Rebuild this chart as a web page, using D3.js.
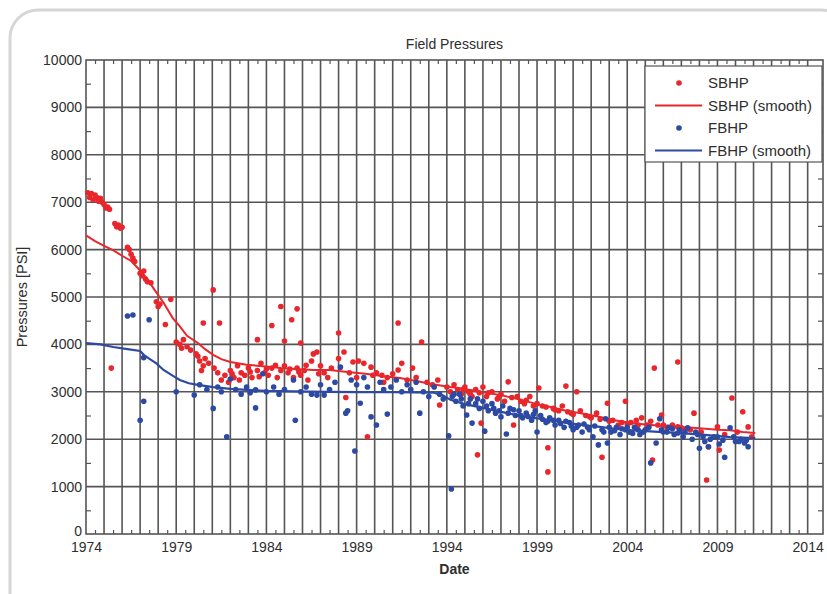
<!DOCTYPE html>
<html><head><meta charset="utf-8">
<script src="https://cdn.jsdelivr.net/npm/d3@7"></script>
<style>
body{margin:0;background:#fff;}
svg{display:block;font-family:"Liberation Sans",Arial,sans-serif;}
</style></head>
<body>
<svg id="chart" width="827" height="594"></svg>
<script>
const chartTitle = "Field Pressures";
const xLabel = "Date";
const yLabel = "Pressures [PSI]";
const xTickYears = [1974,1979,1984,1989,1994,1999,2004,2009,2014];
const yTickValues = [0,1000,2000,3000,4000,5000,6000,7000,8000,9000,10000];
const seriesNames = ["SBHP","SBHP (smooth)","FBHP","FBHP (smooth)"];

const sbhpPoints = [
[1974.1,7200],[1974.2,7100],[1974.3,7180],[1974.4,7050],[1974.5,7150],[1974.6,7100],[1974.7,7020],[1974.8,7080],[1974.9,7000],[1975.0,6950],[1975.1,6880],[1975.2,6900],[1975.3,6850],
[1975.6,6550],[1975.7,6480],[1975.8,6520],[1975.9,6450],[1976.0,6470],[1975.4,3500],
[1976.3,6050],[1976.4,6000],[1976.5,5900],[1976.6,5820],[1976.7,5750],
[1977.0,5500],[1977.1,5450],[1977.2,5550],[1977.3,5380],[1977.4,5320],[1977.6,5300],
[1977.9,4900],[1978.0,4800],[1978.1,4850],[1978.4,4420],[1978.7,4950],
[1979.0,4050],[1979.2,4000],[1979.4,4100],[1979.6,3950],[1979.8,3880],[1979.3,3920],
[1980.1,3800],[1980.2,3750],[1980.3,3650],[1980.5,3550],[1980.6,3700],[1980.8,3600],[1980.4,3450],
[1980.5,4450],[1981.4,4450],[1981.05,5150],
[1981.1,3500],[1981.3,3400],[1981.5,3250],[1981.7,3350],[1981.9,3200],[1982.0,3450],[1982.2,3300],[1982.4,3550],[1982.6,3400],[1982.8,3350],[1983.0,3500],[1983.2,3300],[1983.5,3450],[1983.7,3600],[1983.9,3400],[1984.1,3350],[1984.3,3500],[1984.6,3300],[1984.8,3450],[1985.0,3550],[1985.2,3400],[1985.5,3300],[1985.7,3500],[1985.9,3350],[1986.1,3450],[1986.3,3250],[1986.5,3650],[1986.8,3840],[1987.0,3550],[1987.2,3400],[1987.4,3300],[1987.6,3500],
[1982.1,3380],[1982.5,3250],[1983.1,3420],[1983.6,3320],[1984.0,3480],[1984.5,3560],[1985.3,3480],[1985.8,3420],[1986.2,3560],[1986.9,3380],
[1983.5,4100],[1984.3,4400],[1984.8,4800],[1985.0,4070],[1985.4,4520],[1985.7,4750],[1985.9,4030],[1986.6,3800],
[1988.0,4240],[1988.3,3840],[1988.0,3700],[1988.8,3630],[1989.1,3650],[1989.4,3600],[1988.4,2880],[1989.6,2050],[1989.8,3520],[1990.1,3400],[1990.4,3350],[1990.7,3300],[1991.0,3380],[1991.3,3460],[1991.5,3600],[1991.3,4450],[1992.1,3500],[1992.6,4050],[1991.8,3250],[1992.3,3300],[1992.9,3200],[1993.2,3150],[1993.6,2720],[1993.5,3250],[1988.6,3400],[1989.0,3300],[1989.9,3350],[1990.5,3200],
[1994.0,3100],[1994.2,3000],[1994.4,3150],[1994.6,3050],[1994.8,2950],[1995.0,3100],[1995.2,3000],[1995.4,2900],[1995.7,1670],[1995.9,2340],[1995.6,3050],[1995.8,2980],[1996.0,3100],[1996.2,2900],[1996.5,3000],[1996.8,2850],[1997.0,2950],[1997.4,3210],[1997.2,2800],[1997.7,2300],[1997.9,2900],[1998.1,2800],[1998.3,2750],[1998.6,2900],[1998.8,2700],[1999.1,3080],[1999.3,2700],[1999.6,1820],[1999.6,1310],[1999.9,2650],[2000.2,2600],[2000.6,3120],[2000.4,2700],[2000.9,2550],[2001.2,3000],[2001.4,2600],[2001.7,2500],[2002.0,2450],[2002.3,2550],[2002.6,1620],[2002.9,2760],[2003.2,2400],[2003.5,2300],[2003.9,2800],[2004.2,2350],[2004.5,2400],[2004.8,2450],[2005.1,2300],[2005.4,1560],[2005.5,3500],[2005.9,2510],[2005.7,2300],[2006.2,2250],[2006.5,2300],[2006.8,3630],[2006.8,2260],[2007.2,2200],[2007.7,2550],[2008.1,2150],[2008.4,1140],[2008.5,1840],[2009.0,2260],[2009.1,1770],[2009.4,2100],[2009.8,2870],[2010.1,2150],[2010.4,2580],[2010.7,2260],[2010.9,2050],
[1994.9,3050],[1995.3,2950],[1996.3,2980],[1996.9,2900],[1997.6,2880],[1998.4,2820],[1999.0,2750],[1999.5,2680],[2000.0,2620],[2000.7,2580],[2001.0,2520],[2001.9,2480],[2002.5,2420],[2003.0,2380],[2003.7,2350],[2004.0,2320],[2004.6,2300],[2005.3,2380],[2006.0,2300],[2007.0,2240],[2007.5,2200]
];
const sbhpSmooth = [
[1974.0,6300],[1974.5,6180],[1975.0,6080],[1975.5,5990],[1976.0,5870],[1976.5,5760],[1977.0,5560],[1977.4,5380],[1977.8,5150],[1978.3,4880],[1978.8,4560],[1979.2,4380],[1979.6,4180],[1980.2,4030],[1980.6,3900],[1981.05,3780],[1981.5,3690],[1982.0,3630],[1982.9,3570],[1983.8,3540],[1984.8,3500],[1985.6,3480],[1986.6,3460],[1987.5,3460],[1988.5,3420],[1989.5,3380],[1990.5,3330],[1991.4,3290],[1992.3,3230],[1993.2,3160],[1994.2,3100],[1995.0,3060],[1996.0,2990],[1997.0,2930],[1998.0,2840],[1999.0,2740],[1999.75,2680],[2000.6,2600],[2001.5,2540],[2002.5,2470],[2003.3,2400],[2004.2,2340],[2005.0,2310],[2006.0,2280],[2007.0,2260],[2008.0,2230],[2009.0,2200],[2009.7,2190],[2010.4,2150],[2011.1,2130]
];
const fbhpPoints = [
[1976.3,4600],[1976.6,4620],[1977.5,4520],[1977.0,2400],[1977.2,2800],[1977.2,3720],[1979.0,3000],[1980.0,2930],[1980.3,3150],[1980.7,3050],[1981.05,2650],[1981.3,3100],[1981.8,2050],[1981.5,3000],[1982.0,3270],[1982.3,3050],[1982.6,2950],[1982.9,3100],[1983.1,2980],[1983.4,3040],[1983.4,2660],[1983.8,3380],[1984.0,3000],[1984.4,3100],[1984.7,2950],[1985.0,3050],[1985.5,3250],[1985.6,2400],[1985.9,3000],[1986.2,3100],[1986.5,2950],[1986.8,2930],[1987.0,3150],[1987.2,2930],[1987.5,3050],[1987.8,3200],[1988.1,3520],[1988.4,2550],[1988.5,2600],[1988.7,3250],[1988.9,1750],[1989.0,3150],[1989.2,2760],[1989.4,3300],[1989.6,3100],[1989.8,2470],[1990.1,2300],[1990.3,3200],[1990.5,3050],[1990.7,2530],[1990.9,3100],[1991.2,3250],[1991.5,3000],[1991.8,3150],[1992.0,3050],[1992.3,3200],[1992.5,2550],[1992.7,3000],[1993.0,2900],[1993.3,3100],[1993.6,2950],[1993.8,2850],[1994.1,2070],[1994.25,950],[1994.3,2900],[1994.5,2800],[1994.7,2950],[1994.9,2700],[1995.1,2510],[1995.3,2850],[1995.4,2340],[1995.6,2750],[1995.8,2650],[1996.1,2170],[1996.0,2800],[1996.3,2600],[1996.5,2750],[1996.7,2550],[1997.0,2470],[1997.1,2700],[1997.3,2110],[1997.5,2650],[1997.8,2500],[1998.0,2600],[1998.2,2450],[1998.4,2550],[1998.7,2400],[1998.9,2600],[1999.0,2150],[1999.2,2500],[1999.5,2350],[1999.7,2450],[2000.0,2300],[2000.2,2400],[2000.5,2250],[2000.8,2350],[2001.0,2200],[2001.3,2300],[2001.5,2150],[2001.8,2250],[2002.1,2050],[2002.4,1880],[2002.6,2200],[2002.8,2430],[2002.9,1920],[2003.1,2150],[2003.4,2250],[2003.6,2100],[2003.9,2200],[2004.1,2150],[2004.4,2250],[2004.7,2100],[2005.0,2200],[2005.3,1500],[2005.6,1920],[2005.8,2430],[2006.0,2150],[2006.3,2250],[2006.6,2100],[2006.9,2200],[2007.1,2050],[2007.35,2240],[2007.6,2000],[2007.9,2100],[2008.0,1810],[2008.3,1950],[2008.5,1840],[2008.8,2050],[2009.1,1900],[2009.4,1620],[2009.7,2240],[2010.0,1950],[2010.3,2000],[2010.5,1920],[2010.7,1840],
[1994.4,2950],[1994.8,2850],[1995.2,2750],[1995.7,2850],[1996.2,2700],[1996.6,2650],[1996.9,2600],[1997.4,2550],[1997.7,2620],[1998.1,2500],[1998.5,2480],[1998.8,2520],[1999.3,2420],[1999.6,2380],[1999.9,2400],[2000.3,2330],[2000.6,2380],[2000.9,2280],[2001.2,2250],[2001.6,2320],[2001.9,2200],[2002.2,2280],[2002.7,2150],[2003.0,2250],[2003.3,2180],[2003.7,2220],[2004.0,2250],[2004.3,2120],[2004.6,2200],[2004.9,2150],[2005.2,2250],[2005.9,2200],[2006.2,2150],[2006.5,2220],[2006.8,2130],[2007.2,2150],[2007.8,2150],[2008.2,2050],[2008.6,2000],[2009.0,2050],[2009.3,1980],[2009.9,2050],[2010.2,1950],[2010.6,1980]
];
const fbhpSmooth = [
[1974.0,4030],[1974.8,4000],[1975.5,3945],[1976.3,3900],[1977.0,3860],[1977.2,3780],[1977.5,3700],[1977.9,3600],[1978.3,3460],[1978.8,3340],[1979.2,3250],[1979.7,3180],[1980.2,3145],[1981.05,3100],[1982.0,3060],[1982.9,3040],[1984.0,3020],[1985.5,3010],[1987.4,3000],[1989.0,2995],[1991.0,2990],[1993.3,2980],[1993.8,2920],[1994.2,2830],[1995.0,2740],[1996.0,2660],[1997.0,2575],[1998.0,2500],[1999.0,2440],[1999.75,2405],[2000.6,2350],[2001.5,2300],[2002.5,2260],[2003.3,2220],[2004.2,2190],[2005.5,2160],[2007.0,2130],[2008.3,2090],[2009.7,2045],[2011.1,2025]
];

const red = "#e8262b", blue = "#2c4aa3";
const txt = "#2e2e2e";
const svg = d3.select("#chart");
// outer frame
svg.append("rect").attr("x",10).attr("y",10).attr("width",840).attr("height",620)
  .attr("rx",28).attr("fill","none").attr("stroke","#d6d6d6").attr("stroke-width",3);

const L=86, R=823, T=60, B=534;
const x = d3.scaleLinear().domain([1974, 2014.85]).range([L,R]);
const y = d3.scaleLinear().domain([0,10000]).range([B,T]);

const grid = svg.append("g").attr("stroke","#555").attr("stroke-width",1.6);
grid.selectAll("line.v").data(d3.range(1975,2015)).join("line")
  .attr("x1",d=>x(d)).attr("x2",d=>x(d)).attr("y1",T).attr("y2",B);
grid.selectAll("line.h").data(yTickValues.slice(1,-1)).join("line")
  .attr("x1",L).attr("x2",R).attr("y1",d=>y(d)).attr("y2",d=>y(d));

// frame axes with inward ticks
const axisColor = "#555";
const minorY = d3.range(500,10000,1000);
const gL = svg.append("g").attr("transform",`translate(${L},0)`)
  .call(d3.axisRight(y).tickValues(minorY).tickSize(5).tickFormat(""));
const gR = svg.append("g").attr("transform",`translate(${R},0)`)
  .call(d3.axisLeft(y).tickValues(minorY).tickSize(5).tickFormat(""));
const gB = svg.append("g").attr("transform",`translate(0,${B})`)
  .call(d3.axisTop(x).tickValues(d3.range(1974.5,2014.5,1)).tickSize(4).tickFormat(""));
const gT = svg.append("g").attr("transform",`translate(0,${T})`)
  .call(d3.axisBottom(x).tickValues(d3.range(1974.5,2014.5,1)).tickSize(4).tickFormat(""));
[gL,gR,gB,gT].forEach(g=>{g.select(".domain").remove(); g.selectAll("line").attr("stroke",axisColor).attr("stroke-width",1.2);});
svg.append("rect").attr("x",L).attr("y",T).attr("width",R-L).attr("height",B-T)
  .attr("fill","none").attr("stroke",axisColor).attr("stroke-width",1.6);

// tick labels via axes (no lines)
const yLab = svg.append("g").attr("transform",`translate(${L},0)`)
  .call(d3.axisLeft(y).tickValues(yTickValues).tickSize(0).tickPadding(4).tickFormat(d3.format("d")));
yLab.select(".domain").remove();
yLab.selectAll("text").attr("font-size",14).attr("fill",txt).attr("font-family","Liberation Sans, Arial")
  .attr("dy", d => d===0 ? "0.1em" : "0.32em");
const xLab = svg.append("g").attr("transform",`translate(0,${B})`)
  .call(d3.axisBottom(x).tickValues(xTickYears).tickSize(0).tickPadding(8).tickFormat(d3.format("d")));
xLab.select(".domain").remove();
xLab.selectAll("text").attr("font-size",14).attr("fill",txt).attr("font-family","Liberation Sans, Arial");

// titles
svg.append("text").attr("x",(L+R)/2).attr("y",49).attr("text-anchor","middle")
  .attr("font-size",14).attr("fill",txt).text(chartTitle);
svg.append("text").attr("x",(L+R)/2).attr("y",574).attr("text-anchor","middle")
  .attr("font-size",14).attr("font-weight","bold").attr("fill",txt).text(xLabel);
svg.append("text").attr("transform",`translate(27,${(T+B)/2}) rotate(-90)`).attr("text-anchor","middle")
  .attr("font-size",14.5).attr("fill",txt).text(yLabel);

// data
const line = d3.line().x(d=>x(d[0])).y(d=>y(d[1]));
const plot = svg.append("g");
plot.selectAll("circle.s").data(sbhpPoints).join("circle")
  .attr("cx",d=>x(d[0])).attr("cy",d=>y(d[1])).attr("r",2.8).attr("fill",red);
plot.append("path").datum(sbhpSmooth).attr("d",line).attr("fill","none").attr("stroke",red).attr("stroke-width",2);
plot.selectAll("circle.f").data(fbhpPoints).join("circle")
  .attr("cx",d=>x(d[0])).attr("cy",d=>y(d[1])).attr("r",2.8).attr("fill",blue);
plot.append("path").datum(fbhpSmooth).attr("d",line).attr("fill","none").attr("stroke",blue).attr("stroke-width",2.2);

// legend
const lg = svg.append("g").attr("transform","translate(645,66)");
lg.append("rect").attr("width",177).attr("height",96).attr("fill","#fff").attr("stroke","#555").attr("stroke-width",1.2);
const items = [{t:seriesNames[0],c:red,k:"dot"},{t:seriesNames[1],c:red,k:"line"},{t:seriesNames[2],c:blue,k:"dot"},{t:seriesNames[3],c:blue,k:"line"}];
items.forEach((it,i)=>{
  const yy = 17 + i*22.5;
  if(it.k==="dot") lg.append("circle").attr("cx",34).attr("cy",yy).attr("r",2.8).attr("fill",it.c);
  else lg.append("line").attr("x1",10).attr("x2",57).attr("y1",yy).attr("y2",yy).attr("stroke",it.c).attr("stroke-width",2);
  lg.append("text").attr("x",63).attr("y",yy+5).attr("font-size",15).attr("fill",txt).text(it.t);
});
</script>
</body></html>
